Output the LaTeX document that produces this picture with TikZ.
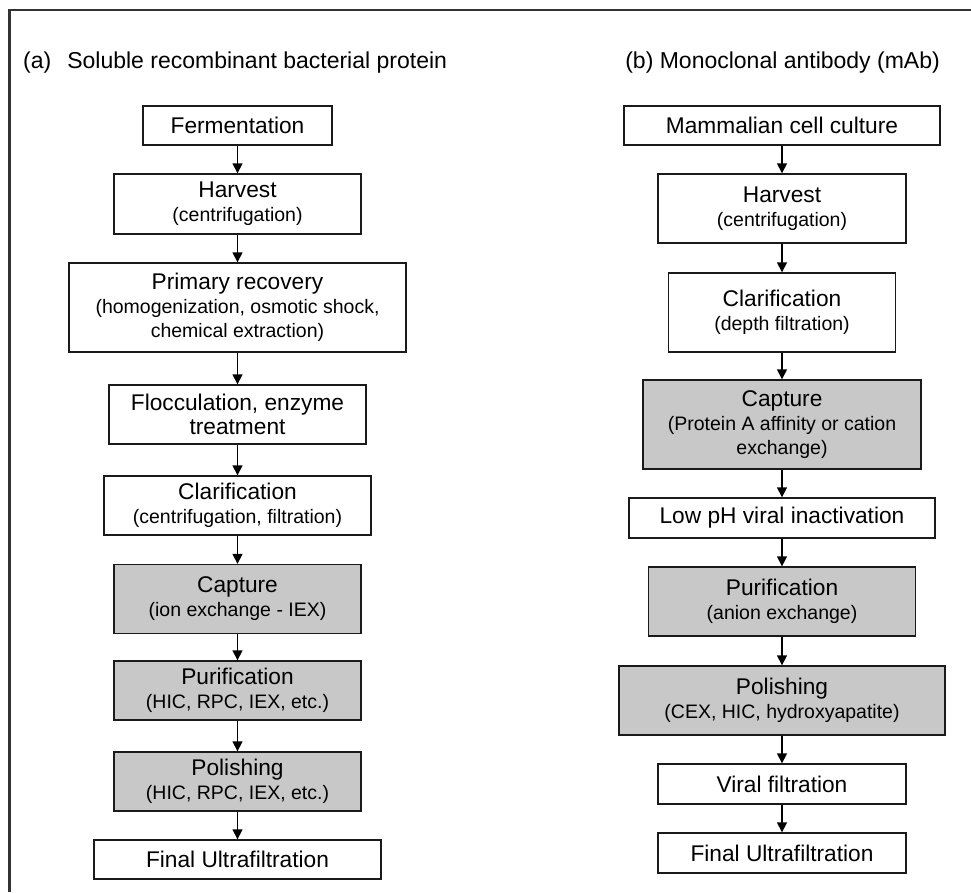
\documentclass[tikz,border=0pt]{standalone}
\usepackage{fontspec}
\setmainfont{Liberation Sans}
\usetikzlibrary{arrows.meta}
\definecolor{boxgray}{HTML}{C8C8C8}
\definecolor{framegray}{HTML}{333333}
\definecolor{edge}{HTML}{1A1A1A}
\newcommand{\fmain}{\fontsize{22.7}{24}\selectfont}
\newcommand{\fsub}{\fontsize{19.5}{24}\selectfont}
\newcommand{\ftitle}{\fontsize{23}{26}\selectfont}
\tikzset{
  stepbox/.style={draw=edge, line width=1.4pt, fill=white, align=center, inner sep=0pt, font=\fmain},
  graybox/.style={stepbox, fill=boxgray},
  flow/.style={line width=1.5pt, -{Triangle[length=10pt,width=10pt]}},
  titletext/.style={font=\ftitle, inner sep=0pt}
}
\begin{document}
\begin{tikzpicture}[x=1pt,y=-1pt]
\useasboundingbox (0,0) rectangle (971,892);
% frame
\coordinate (ftl) at (9.5,10);
\coordinate (ftr) at (971,10);
\coordinate (fbl) at (9.5,892);
\draw[framegray, line width=2.5pt] (fbl) -- (ftl) -- (ftr);
% titles
\node[titletext, anchor=base west] (ta) at (23,68) {(a)\hspace{16pt}Soluble recombinant bacterial protein};
\node[titletext, anchor=base east] (tb) at (940,68) {(b) Monoclonal antibody (mAb)};
% left column
\node[stepbox, minimum width=189pt, minimum height=39pt] (a1) at (237.5,125.5) {Fermentation};
\node[stepbox, minimum width=247pt, minimum height=60pt] (a2) at (237.5,204) {Harvest\\{\fsub(centrifugation)}};
\node[stepbox, minimum width=337pt, minimum height=89pt] (a3) at (237.5,307.5) {Primary recovery\\{\fsub(homogenization, osmotic shock,}\\{\fsub chemical extraction)}};
\node[stepbox, minimum width=257pt, minimum height=59pt] (a4) at (237.5,414.5) {Flocculation, enzyme\\treatment};
\node[stepbox, minimum width=267pt, minimum height=59pt] (a5) at (237.5,505.5) {Clarification\\{\fsub(centrifugation, filtration)}};
\node[graybox, minimum width=247pt, minimum height=69pt] (a6) at (237.5,599) {Capture\\{\fsub(ion exchange - IEX)}};
\node[graybox, minimum width=247pt, minimum height=59pt] (a7) at (237.5,690.5) {Purification\\{\fsub(HIC, RPC, IEX, etc.)}};
\node[graybox, minimum width=247pt, minimum height=59pt] (a8) at (237.5,781.5) {Polishing\\{\fsub(HIC, RPC, IEX, etc.)}};
\node[stepbox, minimum width=287pt, minimum height=39pt] (a9) at (237.5,859.5) {Final Ultrafiltration};
% right column
\node[stepbox, minimum width=316pt, minimum height=39pt] (b1) at (782,125.5) {Mammalian cell culture};
\node[stepbox, minimum width=248pt, minimum height=69pt] (b2) at (782,208.5) {Harvest\\{\fsub(centrifugation)}};
\node[stepbox, minimum width=227pt, minimum height=79pt] (b3) at (782,312.5) {Clarification\\{\fsub(depth filtration)}};
\node[graybox, minimum width=278pt, minimum height=89pt] (b4) at (782,424.5) {Capture\\{\fsub(Protein A affinity or cation}\\{\fsub exchange)}};
\node[stepbox, minimum width=306pt, minimum height=40pt] (b5) at (782,518) {Low pH viral inactivation};
\node[graybox, minimum width=267pt, minimum height=69pt] (b6) at (782,601.5) {Purification\\{\fsub(anion exchange)}};
\node[graybox, minimum width=326pt, minimum height=69pt] (b7) at (782,700.5) {Polishing\\{\fsub(CEX, HIC, hydroxyapatite)}};
\node[stepbox, minimum width=248pt, minimum height=40pt] (b8) at (782,784) {Viral filtration};
\node[stepbox, minimum width=248pt, minimum height=40pt] (b9) at (782,853) {Final Ultrafiltration};
% arrows
\foreach \i/\j in {1/2,2/3,3/4,4/5,5/6,6/7,7/8,8/9}{
  \draw[flow] (a\i.south) -- (a\j.north);
  \draw[flow] (b\i.south) -- (b\j.north);
}
\end{tikzpicture}
\end{document}
